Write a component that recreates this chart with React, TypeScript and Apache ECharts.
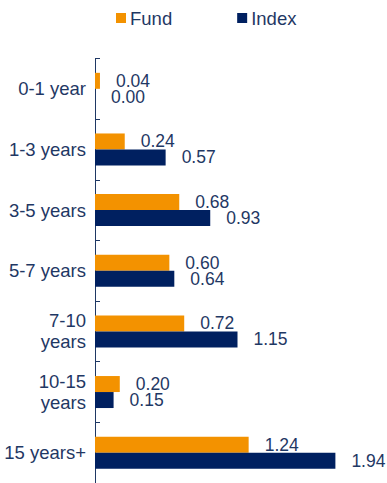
import React, { useEffect, useRef } from "react";
import * as echarts from "echarts";

const categories = ["0-1 year", "1-3 years", "3-5 years", "5-7 years", "7-10\nyears", "10-15\nyears", "15 years+"];
const fundValues = [0.04, 0.24, 0.68, 0.6, 0.72, 0.2, 1.24];
const indexValues = [0.0, 0.57, 0.93, 0.64, 1.15, 0.15, 1.94];
const seriesNames = ["Fund", "Index"];

const ORANGE = "#F39200";
const NAVY = "#002060";
const TEXT = "#1F3864";
const FONT = "'Liberation Sans', Arial, sans-serif";

export default function App() {
  const ref = useRef<HTMLDivElement>(null);
  useEffect(() => {
    if (!ref.current) return;
    const chart = echarts.init(ref.current, null, { renderer: "svg" });
    const label = {
      show: true,
      position: "right" as const,
      distance: 16,
      color: TEXT,
      fontSize: 17.5,
      lineHeight: 15,
      fontFamily: FONT,
      formatter: (p: any) => Number(p.value).toFixed(2),
    };
    chart.setOption({
      animation: false,
      textStyle: { fontFamily: FONT },
      legend: {
        data: seriesNames,
        left: 116,
        top: 8,
        padding: 0,
        itemWidth: 10,
        itemHeight: 10,
        itemGap: 65,
        icon: "rect",
        textStyle: { color: TEXT, fontSize: 18.5, fontFamily: FONT, lineHeight: 20, padding: [0, 0, 0, -1] },
      },
      grid: { left: 95, top: 58.5, width: 285, height: 431.5, containLabel: false },
      xAxis: {
        type: "value",
        min: 0,
        max: 2.3,
        show: false,
      },
      yAxis: {
        type: "category",
        data: categories,
        inverse: true,
        axisLine: { show: true, lineStyle: { color: TEXT, width: 1 } },
        axisTick: { show: true, inside: true, length: 5, lineStyle: { color: TEXT } },
        axisLabel: {
          color: TEXT,
          fontSize: 18.5,
          fontFamily: FONT,
          margin: 9,
          lineHeight: 21,
          align: "right",
        },
        splitLine: { show: false },
      },
      series: [
        {
          name: seriesNames[0],
          type: "bar",
          data: fundValues,
          barWidth: 16,
          barGap: "0%",
          itemStyle: { color: ORANGE },
          label,
        },
        {
          name: seriesNames[1],
          type: "bar",
          data: indexValues,
          barWidth: 16,
          itemStyle: { color: NAVY },
          label,
        },
      ],
    });
    return () => chart.dispose();
  }, []);
  return (
    <div
      ref={ref}
      style={{ position: "fixed", left: 0, top: 0, width: 387, height: 483, background: "#fff" }}
    />
  );
}
